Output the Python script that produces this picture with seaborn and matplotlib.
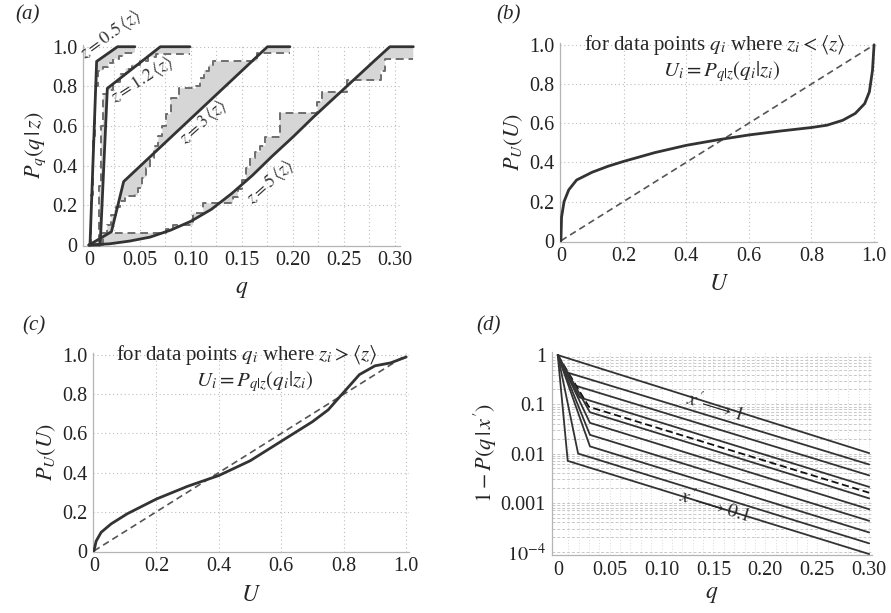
import numpy as np
import matplotlib
matplotlib.use("Agg")
import matplotlib.pyplot as plt
import seaborn as sns

sns.set_theme(style="white")
plt.rcParams["font.family"] = ["Liberation Serif", "DejaVu Serif"]
plt.rcParams["mathtext.fontset"] = "stix"

# ---- panel (a): theoretical (solid) and empirical (dashed, step) P_q(q|z)
z_labels = [r"$z = 0.5\,\langle z\rangle$", r"$z = 1.2\,\langle z\rangle$",
            r"$z = 3\,\langle z\rangle$", r"$z = 5\,\langle z\rangle$"]

solid_q = [
    [0, 0.001, 0.0075, 0.028, 0.045],
    [0, 0.011, 0.018, 0.070, 0.099],
    [0, 0.022, 0.034, 0.175, 0.197],
    [0, 0.02, 0.04, 0.06, 0.08, 0.10, 0.12, 0.14, 0.16, 0.18, 0.20, 0.22,
     0.24, 0.26, 0.28, 0.295, 0.318],
]
solid_p = [
    [0, 0, 0.926, 1.0, 1.0],
    [0, 0, 0.79, 1.0, 1.0],
    [0, 0.067, 0.32, 1.0, 1.0],
    [0, 0.006, 0.02, 0.04, 0.075, 0.12, 0.18, 0.26, 0.35, 0.45, 0.545,
     0.645, 0.74, 0.835, 0.93, 1.0, 1.0],
]
step_q = [
    [0, 0.002, 0.004, 0.006, 0.009, 0.014, 0.019, 0.024, 0.029, 0.034, 0.045],
    [0, 0.010, 0.012, 0.014, 0.018, 0.024, 0.030, 0.036, 0.042, 0.050, 0.058,
     0.066, 0.099],
    [0, 0.014, 0.018, 0.022, 0.026, 0.030, 0.035, 0.045, 0.048, 0.052, 0.056,
     0.060, 0.064, 0.068, 0.072, 0.076, 0.080, 0.088, 0.105, 0.109, 0.113,
     0.118, 0.122, 0.165, 0.197],
    [0, 0.010, 0.076, 0.082, 0.102, 0.112, 0.141, 0.146, 0.150, 0.154, 0.158,
     0.163, 0.168, 0.173, 0.187, 0.224, 0.228, 0.253, 0.286, 0.290, 0.318],
]
step_p = [
    [0, 0.25, 0.55, 0.80, 0.88, 0.90, 0.92, 0.94, 0.955, 0.97, 0.97],
    [0, 0.30, 0.60, 0.76, 0.78, 0.82, 0.86, 0.89, 0.91, 0.93, 0.95, 0.965,
     0.965],
    [0, 0.06, 0.10, 0.15, 0.19, 0.22, 0.245, 0.25, 0.29, 0.34, 0.39, 0.44,
     0.50, 0.55, 0.60, 0.66, 0.74, 0.79, 0.80, 0.84, 0.88, 0.91, 0.926, 0.97,
     0.97],
    [0, 0.06, 0.08, 0.10, 0.16, 0.21, 0.24, 0.28, 0.33, 0.39, 0.44, 0.47,
     0.50, 0.545, 0.667, 0.72, 0.77, 0.83, 0.88, 0.94, 0.94],
]
label_pos = [(0.021, 1.06, 36), (0.052, 0.835, 33), (0.112, 0.62, 42),
             (0.178, 0.32, 42)]

q_ticks = [0, 0.05, 0.10, 0.15, 0.20, 0.25, 0.30]
q_ticklabels = ["0", "0.05", "0.10", "0.15", "0.20", "0.25", "0.30"]
unit_ticks = [0, 0.2, 0.4, 0.6, 0.8, 1.0]
unit_ticklabels = ["0", "0.2", "0.4", "0.6", "0.8", "1.0"]

# ---- panel (b): z_i < <z>
b_u = [0, 0.002, 0.01, 0.025, 0.05, 0.1, 0.15, 0.2, 0.3, 0.4, 0.5, 0.6, 0.7,
       0.8, 0.85, 0.9, 0.94, 0.97, 0.985, 0.995, 1.0]
b_p = [0, 0.12, 0.2, 0.26, 0.31, 0.35, 0.38, 0.405, 0.45, 0.487, 0.515, 0.54,
       0.56, 0.578, 0.59, 0.615, 0.65, 0.7, 0.76, 0.87, 1.0]

# ---- panel (c): z_i > <z>
c_u = [0, 0.007, 0.023, 0.055, 0.107, 0.2, 0.3, 0.4, 0.5, 0.6, 0.7, 0.75,
       0.8, 0.85, 0.9, 0.95, 1.0]
c_p = [0, 0.05, 0.095, 0.138, 0.19, 0.265, 0.33, 0.385, 0.46, 0.56, 0.66,
       0.72, 0.81, 0.9, 0.945, 0.96, 0.99]

# ---- panel (d): 1 - P(q|x') on log scale, (0,1) -> knee -> q = 0.30
d_knee_q = [0.0, 0.008, 0.014, 0.021, 0.030, 0.031, 0.031, 0.031, 0.031,
            0.0196, 0.0096]
d_knee_p = [1.0, 0.45, 0.25, 0.138, 0.089, 0.069, 0.042, 0.024, 0.014,
            0.010, 0.0071]
d_end_p = [0.0102, 0.0060, 0.0036, 0.0021, 0.0016, 0.00123, 0.00074,
           0.00043, 0.00025, 0.00015, 0.000091]
d_dashed = [False, False, False, False, True, False, False, False, False,
            False, False]
d_end_q = 0.30
d_yticks = [1e-4, 1e-3, 1e-2, 1e-1, 1]
d_yticklabels = [r"$10^{-4}$", "0.001", "0.01", "0.1", "1"]

INK = "#333333"
GRID = "#bdbdbd"
FS = 14.5


def style_axes(ax):
    for s in ["top", "right"]:
        ax.spines[s].set_visible(False)
    for s in ["left", "bottom"]:
        ax.spines[s].set_color("#b5b5b5")
        ax.spines[s].set_linewidth(0.9)
    ax.tick_params(length=0, pad=4, labelsize=FS, colors="#222222")


def grid_lines(ax, xs, ys):
    for x in xs:
        ax.axvline(x, color=GRID, lw=0.8, ls=(0, (1, 2.5)), zorder=0)
    for y in ys:
        ax.axhline(y, color=GRID, lw=0.8, ls=(0, (1, 2.5)), zorder=0)


def step_vertices(q, p):
    q = np.asarray(q)
    p = np.asarray(p)
    vq = np.repeat(q, 2)[1:]
    vp = np.repeat(p, 2)[:-1]
    return vq, vp


fig = plt.figure(figsize=(8.91, 6.13), dpi=100)
ax_a = fig.add_axes([0.093, 0.599, 0.356, 0.328])
ax_b = fig.add_axes([0.6285, 0.606, 0.356, 0.324])
ax_c = fig.add_axes([0.1044, 0.100, 0.355, 0.324])
ax_d = fig.add_axes([0.619, 0.0946, 0.360, 0.331])

# (a)
grid_lines(ax_a, np.arange(0.025, 0.31, 0.025), [0.2, 0.4, 0.6, 0.8, 1.0])
for i in range(4):
    vq, vp = step_vertices(step_q[i], step_p[i])
    poly_q = np.concatenate([solid_q[i], vq[::-1]])
    poly_p = np.concatenate([solid_p[i], vp[::-1]])
    ax_a.fill(poly_q, poly_p, color="#d6d6d6", lw=0, zorder=1, clip_on=False)
    sns.lineplot(x=step_q[i], y=step_p[i], ax=ax_a, color="#6e6e6e", lw=1.4,
                 ls=(0, (4, 2.5)), drawstyle="steps-post", sort=False,
                 estimator=None, zorder=2, clip_on=False)
    sns.lineplot(x=solid_q[i], y=solid_p[i], ax=ax_a, color=INK, lw=2.0,
                 sort=False, estimator=None, zorder=3, clip_on=False)
    lx, ly, rot = label_pos[i]
    ax_a.text(lx, ly, z_labels[i], rotation=rot, ha="center", va="center",
              fontsize=13, color="#333333", rotation_mode="anchor")
ax_a.set_xlim(-0.006, 0.305)
ax_a.set_ylim(-0.004, 1.01)
ax_a.set_xticks(q_ticks)
ax_a.set_xticklabels(q_ticklabels)
ax_a.set_yticks(unit_ticks)
ax_a.set_yticklabels(unit_ticklabels)
ax_a.set_xlabel(r"$q$", fontsize=17, labelpad=6)
ax_a.set_ylabel(r"$P_q(q\,|\,z)$", fontsize=16, labelpad=3)
style_axes(ax_a)

# (b) and (c)
for ax, u, p, sign in [(ax_b, b_u, b_p, "<"), (ax_c, c_u, c_p, ">")]:
    grid_lines(ax, [0.2, 0.4, 0.6, 0.8, 1.0], [0.2, 0.4, 0.6, 0.8, 1.0])
    sns.lineplot(x=[0, 1], y=[0, 1], ax=ax, color="#555555", lw=1.2,
                 ls=(0, (4, 2.5)), zorder=2)
    sns.lineplot(x=u, y=p, ax=ax, color=INK, lw=2.0, sort=False,
                 estimator=None, zorder=3)
    ax.text(0.49, 1.0, r"for data points $q_i$ where $z_i %s \langle z\rangle$"
            % sign, ha="center", va="center", fontsize=15, zorder=4)
    ax.text(0.515, 0.865, r"$U_i = P_{q|z}(q_i|z_i)$", ha="center",
            va="center", fontsize=15, zorder=4)
    ax.set_xlim(-0.003, 1.01)
    ax.set_ylim(-0.004, 1.01)
    ax.set_xticks(unit_ticks)
    ax.set_xticklabels(unit_ticklabels)
    ax.set_yticks(unit_ticks)
    ax.set_yticklabels(unit_ticklabels)
    ax.set_xlabel(r"$U$", fontsize=17, labelpad=6)
    ax.set_ylabel(r"$P_U(U)$", fontsize=16, labelpad=3)
    style_axes(ax)

# (d)
for x in np.arange(0.01, 0.305, 0.01):
    ax_d.axvline(x, color="#d9d9d9", lw=0.7, ls=(0, (1, 2)), zorder=0)
for dec in [1e-4, 1e-3, 1e-2, 1e-1]:
    for m in range(1, 10):
        ax_d.axhline(dec * m, color="#c8c8c8", lw=0.7, ls=(0, (3, 2)),
                     zorder=0)
for i in range(len(d_end_p)):
    xs = [0.0, d_knee_q[i], d_end_q]
    ys = [1.0, d_knee_p[i], d_end_p[i]]
    sns.lineplot(x=xs, y=ys, ax=ax_d, color="#111111" if d_dashed[i] else INK,
                 lw=1.3, ls=(0, (4, 2)) if d_dashed[i] else "-", sort=False,
                 estimator=None, zorder=3)
ax_d.set_yscale("log")
ax_d.set_xlim(-0.006, 0.303)
ax_d.set_ylim(10 ** -4.06, 10 ** 0.06)
ax_d.set_xticks(q_ticks)
ax_d.set_xticklabels(q_ticklabels)
ax_d.set_yticks(d_yticks)
ax_d.set_yticklabels(d_yticklabels)
ax_d.yaxis.set_minor_locator(matplotlib.ticker.NullLocator())
ax_d.text(0.152, 0.094, r"$x'\!\longrightarrow 1$", rotation=-17,
          ha="center", va="center", fontsize=14, zorder=4)
ax_d.text(0.152, 0.00088, r"$x'\!\longrightarrow 0.1$", rotation=-17,
          ha="center", va="center", fontsize=14, zorder=4)
ax_d.set_xlabel(r"$q$", fontsize=17, labelpad=3)
ax_d.set_ylabel(r"$1 - P(q\,|\,x')$", fontsize=16, labelpad=1)
style_axes(ax_d)

for x, y, t in [(0.017, 0.975, "(a)"), (0.557, 0.975, "(b)"),
                (0.025, 0.468, "(c)"), (0.535, 0.468, "(d)")]:
    fig.text(x, y, t, fontsize=15, style="italic", ha="left", va="center")

fig.savefig("out.png", dpi=100)
